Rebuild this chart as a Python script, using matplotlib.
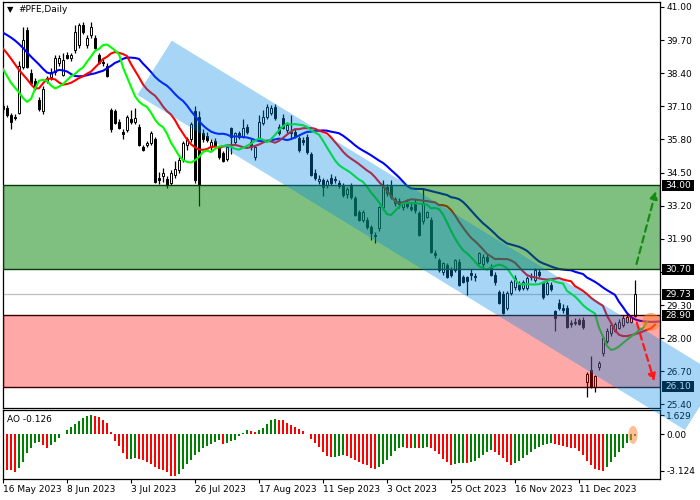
import numpy as np
import pandas as pd
import matplotlib
matplotlib.use("Agg")
import matplotlib.pyplot as plt
import matplotlib.transforms as mtransforms
from matplotlib.patches import Polygon, Ellipse, FancyArrowPatch, Rectangle

plt.rcParams["font.family"] = "DejaVu Sans"
plt.rcParams["font.size"] = 6.5

# Daily candles, bar 0 = 16 May 2023
opens = [36.98, 37.05, 36.75, 36.70, 36.85, 38.65, 40.10, 38.40, 38.10, 37.35,
         36.90, 38.10, 38.25, 38.45, 38.80, 38.35, 39.10, 39.00, 39.30, 39.50,
         40.30, 39.50, 39.90, 39.80, 39.10, 38.85, 38.70, 36.95, 36.90, 36.50,
         36.10, 36.17, 36.60, 36.50, 36.30, 35.50, 35.60, 35.66, 35.80, 34.30,
         34.37, 34.25, 34.10, 34.40, 34.60, 35.00, 35.60, 35.80, 36.90, 36.70,
         36.05, 35.95, 35.50, 35.75, 35.45, 35.27, 35.05, 36.25, 35.70, 36.05,
         35.90, 36.30, 35.70, 35.10, 35.86, 36.45, 36.70, 36.85, 37.08, 36.30,
         36.65, 36.17, 36.10, 36.09, 35.86, 35.78, 35.90, 35.23, 34.50, 34.17,
         34.21, 34.00, 34.29, 34.25, 34.09, 34.01, 33.65, 34.00, 33.50, 32.95,
         32.64, 32.64, 32.36, 32.05, 32.32, 33.15, 33.94, 34.00, 33.30, 33.40,
         33.15, 33.35, 33.15, 33.30, 32.90, 32.60, 32.76, 32.64, 31.35, 31.07,
         30.60, 30.87, 30.68, 30.68, 31.00, 30.40, 30.40, 30.56, 30.45, 30.96,
         30.90, 31.20, 30.80, 30.50, 29.81, 29.75, 29.20, 29.78, 30.00, 30.10,
         29.97, 29.97, 30.40, 30.29, 30.60, 30.17, 29.75, 30.10, 29.05, 29.38,
         29.20, 29.19, 28.60, 28.65, 28.70, 28.72, 26.28, 26.75, 26.10, 26.87,
         27.42, 27.90, 28.20, 28.30, 28.40, 28.50, 28.65, 28.65, 28.88]
highs = [37.25, 37.15, 36.85, 36.80, 38.90, 40.20, 40.20, 38.55, 38.20, 37.45,
         37.90, 38.30, 38.60, 39.10, 39.10, 39.20, 39.25, 39.20, 40.30, 40.37,
         40.40, 39.90, 40.40, 39.90, 39.20, 38.95, 38.80, 37.05, 37.00, 36.60,
         36.20, 36.75, 36.95, 37.05, 36.40, 35.60, 35.75, 36.15, 35.90, 34.52,
         34.70, 34.35, 34.60, 34.95, 35.10, 35.75, 35.90, 36.50, 37.10, 36.90,
         36.20, 36.10, 35.80, 35.85, 35.55, 35.35, 35.55, 36.30, 36.10, 36.15,
         36.60, 36.40, 35.80, 35.60, 36.75, 36.95, 37.20, 37.15, 37.20, 36.40,
         36.80, 36.50, 36.75, 36.20, 35.95, 35.90, 36.00, 35.30, 34.65, 34.40,
         34.30, 34.25, 34.45, 34.35, 34.20, 34.10, 33.95, 34.10, 33.60, 33.05,
         33.05, 32.75, 32.45, 32.15, 33.20, 34.20, 34.05, 34.20, 33.55, 33.50,
         33.40, 33.45, 33.30, 33.45, 33.00, 33.90, 33.00, 32.75, 31.45, 31.15,
         31.00, 30.95, 30.80, 31.10, 31.10, 30.50, 30.45, 30.70, 30.55, 31.40,
         31.30, 31.30, 30.90, 30.60, 29.90, 29.85, 29.85, 30.30, 30.50, 30.25,
         30.30, 30.45, 30.55, 30.75, 30.70, 30.25, 30.30, 30.20, 29.10, 29.55,
         29.35, 29.30, 28.70, 28.80, 28.80, 28.85, 26.68, 27.30, 26.55, 27.10,
         28.10, 28.40, 28.60, 28.65, 28.75, 28.90, 29.00, 28.90, 30.28]
lows = [36.85, 36.70, 36.20, 36.55, 36.80, 38.55, 38.60, 37.95, 37.75, 36.90,
        36.80, 38.00, 38.15, 38.35, 38.70, 38.30, 38.95, 38.90, 39.20, 39.40,
        39.95, 39.40, 39.80, 39.35, 38.75, 38.70, 38.25, 36.10, 36.40, 36.20,
        35.80, 36.10, 36.40, 36.40, 35.55, 35.35, 35.50, 35.60, 34.10, 34.05,
        34.13, 33.90, 34.00, 34.30, 34.50, 34.90, 35.40, 35.70, 34.10, 33.20,
        35.70, 35.70, 35.40, 35.50, 35.05, 34.90, 34.95, 35.25, 35.60, 35.80,
        35.85, 36.00, 35.40, 35.00, 35.80, 36.35, 36.60, 36.75, 36.55, 35.98,
        36.20, 36.05, 35.80, 35.85, 35.30, 35.60, 35.25, 34.35, 34.20, 34.05,
        33.60, 33.90, 34.00, 34.10, 33.90, 33.55, 33.50, 33.45, 32.80, 32.60,
        32.55, 32.30, 31.86, 31.74, 32.20, 33.05, 33.60, 33.45, 33.20, 33.10,
        33.05, 33.10, 33.00, 32.90, 32.00, 32.50, 32.70, 31.35, 31.15, 30.60,
        30.50, 30.35, 30.40, 30.60, 30.05, 30.15, 29.70, 30.30, 30.25, 30.90,
        30.80, 30.95, 30.45, 30.10, 29.35, 28.95, 29.10, 29.70, 29.90, 29.85,
        29.90, 29.90, 30.30, 30.20, 30.40, 29.55, 29.70, 29.85, 28.30, 29.10,
        29.00, 28.40, 28.45, 28.50, 28.50, 28.35, 25.69, 26.05, 25.90, 26.75,
        27.30, 27.80, 28.10, 28.25, 28.35, 28.45, 28.60, 28.60, 28.82]
closes = [37.12, 36.75, 36.50, 36.65, 38.70, 39.70, 38.65, 38.00, 37.82, 37.00,
          37.80, 38.20, 38.45, 39.00, 39.00, 38.92, 39.00, 39.12, 40.00, 40.30,
          40.00, 39.80, 40.20, 39.40, 38.80, 38.80, 38.30, 36.20, 36.45, 36.25,
          36.00, 36.68, 36.50, 36.65, 35.60, 35.40, 35.65, 36.05, 34.15, 34.20,
          34.50, 34.00, 34.50, 34.65, 35.00, 35.66, 35.80, 36.40, 34.20, 34.00,
          35.80, 35.78, 35.70, 35.55, 35.10, 34.95, 35.50, 35.90, 36.05, 35.90,
          36.25, 36.10, 35.50, 35.50, 36.50, 36.70, 37.08, 37.05, 36.65, 36.05,
          36.25, 36.37, 36.05, 35.90, 35.39, 35.70, 35.31, 34.41, 34.29, 34.25,
          33.95, 34.17, 34.09, 34.20, 33.97, 33.62, 33.85, 33.55, 32.85, 32.65,
          32.95, 32.36, 32.13, 32.00, 33.15, 33.94, 33.70, 33.55, 33.45, 33.25,
          33.30, 33.20, 33.08, 33.05, 32.05, 33.30, 32.95, 31.40, 31.27, 30.68,
          30.96, 30.40, 30.50, 31.07, 30.10, 30.21, 30.25, 30.48, 30.40, 31.35,
          31.20, 31.05, 30.50, 30.20, 29.40, 29.00, 29.78, 30.20, 30.35, 29.95,
          30.20, 30.36, 30.45, 30.68, 30.50, 29.62, 30.17, 29.95, 28.80, 29.19,
          29.10, 28.45, 28.55, 28.60, 28.55, 28.44, 26.60, 26.10, 26.50, 27.03,
          28.00, 28.30, 28.50, 28.55, 28.65, 28.80, 28.85, 28.82, 29.73]

# median prices of the bars before 16 May (only feed the Alligator)
pre_median = [40.6, 40.8, 40.9, 40.7, 40.5, 40.6, 40.4, 40.3, 40.5, 40.2,
              40.3, 40.1, 40.4, 40.0, 39.9, 40.1, 39.8, 39.9, 39.7, 39.6,
              39.4, 39.2, 39.0, 38.8, 38.6, 38.3, 37.9, 37.5, 37.2, 37.0]

# Awesome Oscillator values per bar
ao = [-2.78, -3.06, -3.10, -3.20, -2.90, -2.35, -1.63, -1.15, -0.77, -0.70,
      -0.90, -1.15, -0.95, -0.70, -0.30, 0.05, 0.37, 0.60, 0.88, 1.14,
      1.37, 1.55, 1.63, 1.60, 1.45, 1.20, 0.95, 0.20, -0.55, -1.00,
      -1.63, -2.15, -2.10, -2.05, -2.15, -2.17, -2.35, -2.52, -2.78, -2.97,
      -3.06, -3.20, -3.55, -3.58, -3.42, -3.00, -2.58, -2.17, -1.74, -1.52,
      -1.17, -1.00, -0.80, -0.66, -0.52, -0.80, -0.72, -0.57, -0.45, -0.13,
      0.14, 0.34, 0.29, 0.23, 0.34, 0.52, 0.92, 1.26, 1.32, 1.26,
      1.20, 1.00, 0.77, 0.63, 0.43, 0.26, 0.06, -0.40, -0.75, -1.09,
      -1.52, -1.89, -1.95, -1.93, -1.86, -1.80, -1.86, -2.00, -2.23, -2.38,
      -2.52, -2.66, -2.86, -2.97, -2.80, -2.52, -2.23, -1.89, -1.43, -1.17,
      -1.09, -1.17, -1.20, -1.17, -1.19, -1.14, -1.09, -1.17, -1.43, -1.72,
      -2.09, -2.38, -2.66, -2.58, -2.50, -2.46, -2.50, -2.40, -2.25, -2.00,
      -1.75, -1.50, -1.38, -1.55, -1.80, -2.05, -2.35, -2.60, -2.50, -2.30,
      -2.00, -1.75, -1.50, -1.25, -1.05, -0.90, -0.80, -0.72, -0.85, -0.95,
      -1.00, -1.05, -1.15, -1.20, -1.45, -1.80, -2.25, -2.65, -2.95, -3.10,
      -3.12, -2.78, -2.35, -1.92, -1.49, -1.20, -0.77, -0.49, -0.13]

date_ticks = [0, 16, 32, 48, 64, 80, 96, 112, 128, 144]
date_labels = ["16 May 2023", "8 Jun 2023", "3 Jul 2023", "26 Jul 2023", "17 Aug 2023",
               "11 Sep 2023", "3 Oct 2023", "25 Oct 2023", "16 Nov 2023", "11 Dec 2023"]
price_ticks = [41.00, 39.70, 38.40, 37.10, 35.80, 34.50, 33.20, 31.90, 30.60,
               29.30, 28.00, 26.70, 25.40]
level_labels = [34.00, 30.70, 29.73, 28.90, 26.10]
ao_ticks = [1.629, 0.0, -3.124]
ao_tick_labels = ["1.629", "0.00", "-3.124"]

green_zone = (30.70, 34.00)
red_zone = (26.10, 28.90)
bid_price = 29.73
channel_x = [42.2, 33.6, 170.5, 179.1]
channel_y = [39.68, 37.55, 24.40, 26.53]
up_arrow = [(158.2, 30.81), (163.4, 33.88)]
down_arrow = [(158.25, 28.72), (163.0, 26.20)]

o = np.array(opens); h = np.array(highs); l = np.array(lows); c = np.array(closes)
x = np.arange(len(c))

# Alligator (SMMA of median price, shifted forward)
median = pd.Series(np.concatenate([pre_median, (h + l) / 2]))
x_full = np.arange(len(median)) - len(pre_median)

def smma(s, n):
    return s.ewm(alpha=1.0 / n, adjust=False).mean()

jaw = smma(median, 13)
teeth = smma(median, 8)
lips = smma(median, 5)

fig = plt.figure(figsize=(7, 5), dpi=100)
ax = fig.add_axes([2.7 / 700, 1 - 408 / 500, 657.3 / 700, 406 / 500])
ax_ao = fig.add_axes([2.7 / 700, 1 - 479 / 500, 657.3 / 700, 69 / 500])

XMIN, XMAX = -0.075, 164.25
ax.set_xlim(XMIN, XMAX)
ax.set_ylim(25.262, 41.196)

# candles
ax.vlines(x, l, h, color="black", lw=0.9, zorder=2)
up = c >= o
body_low = np.minimum(o, c)
body_h = np.maximum(np.abs(c - o), 0.03)
ax.bar(x[up], body_h[up], bottom=body_low[up], width=0.55, facecolor="white",
       edgecolor="black", lw=0.7, zorder=2.5)
ax.bar(x[~up], body_h[~up], bottom=body_low[~up], width=0.55, facecolor="black",
       edgecolor="black", lw=0.7, zorder=2.5)

ax.plot(x_full + 8, jaw, color="#0000ff", lw=1.5, zorder=3)
ax.plot(x_full + 5, teeth, color="#ff0000", lw=1.5, zorder=3)
ax.plot(x_full + 3, lips, color="#00ff00", lw=1.5, zorder=3)

ax.axhline(bid_price, color="#c0c0c0", lw=0.9, zorder=1.5)
ax.axhspan(*green_zone, facecolor=(0, 0.5, 0, 0.5), edgecolor="#0b3a0b", lw=1.0, zorder=4)
ax.axhspan(*red_zone, facecolor=(1, 0, 0, 0.34), edgecolor="#3a0000", lw=1.0, zorder=4)

ax.yaxis.tick_right()
ax.set_yticks(price_ticks)
ax.set_yticklabels([f"{p:.2f}" for p in price_ticks])
ax.tick_params(axis="y", length=3, width=0.8, pad=1.5, labelsize=6.5)
ax.tick_params(axis="x", bottom=False, labelbottom=False)
for s in ax.spines.values():
    s.set_linewidth(0.9)

ax.text(0.006, 0.981, "\u25bc", transform=ax.transAxes, fontsize=6, va="center", ha="left")
ax.text(0.024, 0.981, "#PFE,Daily", transform=ax.transAxes, fontsize=6.5, va="center", ha="left")

# price boxes on the right scale
blend = mtransforms.blended_transform_factory(fig.transFigure, ax.transData)
for p in level_labels:
    fig.add_artist(Rectangle((662 / 700, p - 0.215), 32 / 700, 0.43, transform=blend,
                             facecolor="black", edgecolor="none", zorder=3))
    fig.text(665 / 700, p, f"{p:.2f}", transform=blend, color="white", fontsize=6.5,
             va="center", ha="left", zorder=4)

# descending channel on top
fig.add_artist(Polygon(np.column_stack([channel_x, channel_y]), closed=True,
                       transform=ax.transData, facecolor=(0, 0.537, 0.898, 0.35),
                       edgecolor="none", zorder=5))

fig.add_artist(FancyArrowPatch(up_arrow[0], up_arrow[1], transform=ax.transData,
                               arrowstyle="-|>", mutation_scale=11, color="#148c14",
                               lw=1.6, linestyle=(0, (3, 2)), zorder=6))
fig.add_artist(FancyArrowPatch(down_arrow[0], down_arrow[1], transform=ax.transData,
                               arrowstyle="-|>", mutation_scale=11, color="#ff1a1a",
                               lw=1.6, linestyle=(0, (3, 2)), zorder=6))
fig.add_artist(Ellipse((162.0, 28.64), 4.5, 0.71, transform=ax.transData,
                       facecolor=(1, 0.5, 0.2, 0.55), edgecolor="none", zorder=6))

# AO panel
ao_arr = np.array(ao)
ao_col = ["#ff0000"] + ["#008000" if d > 0 else "#ff0000" for d in np.diff(ao_arr)]
ax_ao.bar(x, ao_arr, width=0.7, color=ao_col, zorder=2)
ax_ao.set_xlim(XMIN, XMAX)
ax_ao.set_ylim(-3.837, 2.086)
ax_ao.add_patch(Ellipse((157.5, -0.05), 2.3, 1.55, facecolor=(1, 0.55, 0.25, 0.55),
                        edgecolor="none", zorder=3))
ax_ao.yaxis.tick_right()
ax_ao.set_yticks(ao_ticks)
ax_ao.set_yticklabels(ao_tick_labels)
ax_ao.tick_params(axis="y", length=3, width=0.8, pad=1.5, labelsize=6.5)
ax_ao.set_xticks(date_ticks)
ax_ao.set_xticklabels(date_labels)
ax_ao.tick_params(axis="x", length=3, width=0.8, pad=1.5, labelsize=6.5)
for lbl in ax_ao.get_xticklabels():
    lbl.set_ha("left")
for s in ax_ao.spines.values():
    s.set_linewidth(0.9)
ax_ao.text(0.0065, 0.86, "AO -0.126", transform=ax_ao.transAxes, fontsize=6.5,
           va="center", ha="left")

fig.savefig("out.png", dpi=100)
